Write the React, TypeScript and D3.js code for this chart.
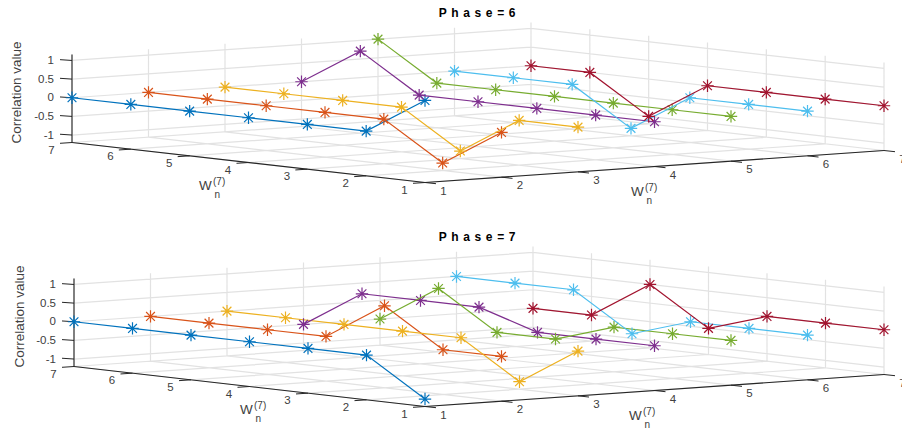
import React from 'react';
import * as d3 from 'd3';

const ticks = [1, 2, 3, 4, 5, 6, 7];
const yOrder = [7, 6, 5, 4, 3, 2, 1];
const zTicks = [-1, -0.5, 0, 0.5, 1];
const zTickLabels = ['-1', '-0.5', '0', '0.5', '1'];
const colors = ['#0072BD', '#D95319', '#EDB120', '#7E2F8E', '#77AC30', '#4DBEEE', '#A2142F'];

// rows follow yOrder (7 down to 1), one row per x value
const phase6 = [
  [0, 0, 0, 0, 0, 0, 1],
  [0, 0, 0, 0, 0, -1, 0],
  [0, 0, 0, 0, -1, 0, 0],
  [0, 1, 0, 0, 0, 0, 0],
  [1, 0, 0, 0, 0, 0, 0],
  [0, 0, 0, -1, 0, 0, 0],
  [0, 0, -1, 0, 0, 0, 0],
];
const phase7 = [
  [0, 0, 0, 0, 0, 0, -1],
  [0, 0, 0, 0, 1, 0, 0],
  [0, 0, 0, 0, 0, -1, 0],
  [-0.5, 0.5, 0.5, 0.5, 0, 0, 0],
  [-0.5, 0.5, -0.5, -0.5, 0, 0, 0],
  [0.5, 0.5, 0.5, -0.5, 0, 0, 0],
  [-0.5, -0.5, 0.5, -0.5, 0, 0, 0],
];

const font = '"Liberation Sans", Arial, sans-serif';
const zMin = -1.2;
const zMax = 1.16;

// oblique projection of the MATLAB view, x runs to the right, y to the left
const xToX = d3.scaleLinear().domain([1, 7]).range([0, 459]);
const xToY = d3.scaleLinear().domain([1, 7]).range([0, -32]);
const yToY = d3.scaleLinear().domain([1, 7]).range([0, -40]);
const zToY = d3.scaleLinear().domain([zMin, zMax]).range([0, -88]);

type PanelProps = {
  title: string;
  values: number[][];
  cx: number;
  cy: number;
  leftSpan: number;
  ylabelX: number;
  label1: [number, number];
  label2: [number, number];
};

function Wn({ x, y }: { x: number; y: number }) {
  return (
    <g fill="#404040" fontFamily={font}>
      <text x={x} y={y} fontSize={13.5}>W</text>
      <text x={x + 14} y={y - 5} fontSize={10}>(7)</text>
      <text x={x + 15.5} y={y + 8} fontSize={10}>n</text>
    </g>
  );
}

function Star({ x, y, color }: { x: number; y: number; color: string }) {
  const r = 6.2;
  const d = r * Math.SQRT1_2;
  return (
    <path
      d={`M${x - r},${y}H${x + r}M${x},${y - r}V${y + r}M${x - d},${y - d}L${x + d},${y + d}M${x - d},${y + d}L${x + d},${y - d}`}
      stroke={color}
      strokeWidth={1.2}
      fill="none"
    />
  );
}

function Panel({ title, values, cx, cy, leftSpan, ylabelX, label1, label2 }: PanelProps) {
  const yToX = d3.scaleLinear().domain([1, 7]).range([0, -leftSpan]);
  const px = (x: number, y: number) => cx + xToX(x) + yToX(y);
  const py = (x: number, y: number, z = zMin) => cy + xToY(x) + yToY(y) + zToY(z);
  const seg = (a: [number, number, number?], b: [number, number, number?]) =>
    `M${px(a[0], a[1])},${py(a[0], a[1], a[2])}L${px(b[0], b[1])},${py(b[0], b[1], b[2])}`;

  const grid: string[] = [];
  ticks.forEach((t) => {
    grid.push(seg([t, 1], [t, 7])); // floor
    grid.push(seg([1, t], [7, t]));
    grid.push(seg([t, 7], [t, 7, zMax])); // back walls
    grid.push(seg([7, t], [7, t, zMax]));
  });
  zTicks.forEach((z) => {
    grid.push(seg([1, 7, z], [7, 7, z]));
    grid.push(seg([7, 7, z], [7, 1, z]));
  });

  return (
    <g>
      <path d={grid.join('')} stroke="#e2e2e2" strokeWidth={1.2} fill="none" />
      <path d={seg([1, 1], [7, 1])} stroke="#262626" strokeWidth={1.1} fill="none" />
      <path d={seg([1, 1], [1, 7])} stroke="#262626" strokeWidth={1.1} fill="none" />
      <path d={seg([1, 7], [1, 7, zMax])} stroke="#262626" strokeWidth={1.1} fill="none" />

      {ticks.map((t) => {
        const xAx = px(t, 1);
        const xAy = py(t, 1);
        const yAx = px(1, t);
        const yAy = py(1, t);
        return (
          <g key={t}>
            <line x1={xAx} y1={xAy} x2={xAx + 11} y2={xAy + 1.2} stroke="#262626" />
            <line x1={yAx} y1={yAy} x2={yAx - 12} y2={yAy + 0.8} stroke="#262626" />
            <text x={xAx + 18.5} y={xAy + 12} fontSize={11.5} fill="#404040" fontFamily={font} textAnchor="middle">{t}</text>
            <text x={yAx - 20.5} y={yAy + 11} fontSize={11.5} fill="#404040" fontFamily={font} textAnchor="middle">{t}</text>
          </g>
        );
      })}

      {zTicks.map((z, i) => (
        <g key={z}>
          <line x1={px(1, 7)} y1={py(1, 7, z)} x2={px(1, 7) - 12} y2={py(1, 7, z) - 0.8} stroke="#262626" />
          <text x={px(1, 7) - 18} y={py(1, 7, z) + 3.5} fontSize={11.5} fill="#404040" fontFamily={font} textAnchor="end">{zTickLabels[i]}</text>
        </g>
      ))}

      <text
        transform={`translate(${ylabelX},${cy - 90}) rotate(-90)`}
        textAnchor="middle"
        fontSize={13.5}
        fill="#404040"
        fontFamily={font}
      >
        Correlation value
      </text>

      <Wn x={label1[0]} y={label1[1]} />
      <Wn x={label2[0]} y={label2[1]} />

      <text x={477.5} y={cy - 166} textAnchor="middle" fontSize={12} fontWeight="bold" letterSpacing={0.65} fill="#000" fontFamily={font}>
        {title}
      </text>

      {values.map((row, s) => {
        const x = s + 1;
        const path = d3
          .line<number>()
          .x((_, i) => px(x, yOrder[i]))
          .y((v, i) => py(x, yOrder[i], v))(row);
        return (
          <g key={s}>
            <path d={path ?? ''} stroke={colors[s]} strokeWidth={1.2} fill="none" />
            {row.map((v, i) => (
              <Star key={i} x={px(x, yOrder[i])} y={py(x, yOrder[i], v)} color={colors[s]} />
            ))}
          </g>
        );
      })}
    </g>
  );
}

export default function App() {
  return (
    <svg width={902} height={429} style={{ position: 'absolute', left: 0, top: 0, background: '#fff' }}>
      <Panel title="P h a s e = 6" values={phase6} cx={425} cy={182.5} leftSpan={353} ylabelX={21} label1={[199, 190]} label2={[631, 196]} />
      <Panel title="P h a s e = 7" values={phase7} cx={425} cy={406.5} leftSpan={351} ylabelX={24} label1={[240, 414]} label2={[629, 420]} />
    </svg>
  );
}
